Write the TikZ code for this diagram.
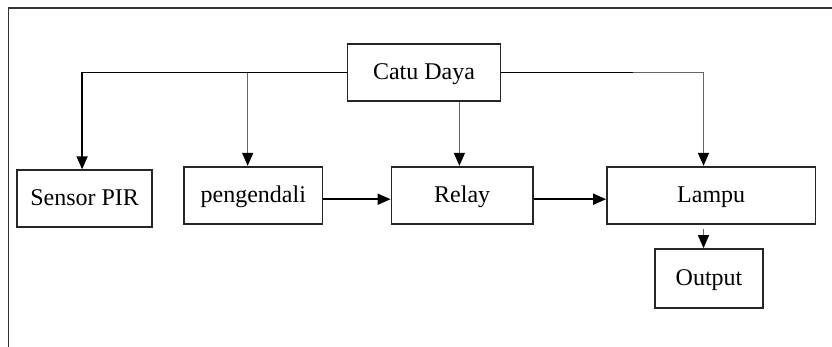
\documentclass[tikz,border=0pt]{standalone}
\usepackage{fontspec}
\setmainfont{Liberation Serif}
\usetikzlibrary{arrows.meta}
\tikzset{
  blk/.style={draw=black!85, line width=1.7pt, inner sep=0pt, minimum height=57pt,
    text height=17pt, text depth=3pt, font=\fontsize{24}{28}\selectfont},
  tip/.style={-{Triangle[length=13pt,width=11pt,color=black]}},
  arr/.style={draw=black, line width=1.6pt, tip},
  garr/.style={draw=black!60, line width=1.5pt, tip},
  frame/.style={draw=black!80, line width=1.8pt}
}
\begin{document}
\begin{tikzpicture}[x=1pt,y=-1pt]
\useasboundingbox (0,0) rectangle (832,347);
\draw[frame] (8.5,347) -- (8.5,8) -- (832,8);

\node[blk, minimum width=153pt] (cd) at (424,72.7) {Catu Daya};
\node[blk, minimum width=135pt] (sensor) at (84.6,198.7) {Sensor PIR};
\node[blk, minimum width=138.6pt] (peng) at (253.3,195.2) {pengendali};
\node[blk, minimum width=141.5pt] (relay) at (462.2,195.2) {Relay};
\node[blk, minimum width=208.4pt] (lampu) at (711.2,195.2) {Lampu};
\node[blk, minimum width=108pt, minimum height=59pt] (out) at (709,278.5) {Output};

\draw[arr] (cd.west) -| ([xshift=-2.5pt]sensor.north);
\draw[garr] ([xshift=-5.6pt]peng.north |- cd.west) -- ([xshift=-5.6pt]peng.north);
\draw[garr] ([xshift=-2.8pt]relay.north |- cd.south) -- ([xshift=-2.8pt]relay.north);
\draw[draw=black, line width=1.6pt] (cd.east) -- ++(131.5,0) coordinate (bend);
\draw[garr] (bend) -| ([xshift=-7.7pt]lampu.north);
\draw[garr] ([xshift=-5.5pt,yshift=-4pt]out.north |- lampu.south) -- ([xshift=-5.5pt]out.north);

\draw[arr] ([yshift=-4pt]peng.east) -- ([yshift=-4pt]relay.west);
\draw[arr] ([yshift=-4pt]relay.east) -- ([yshift=-4pt]lampu.west);
\end{tikzpicture}
\end{document}
